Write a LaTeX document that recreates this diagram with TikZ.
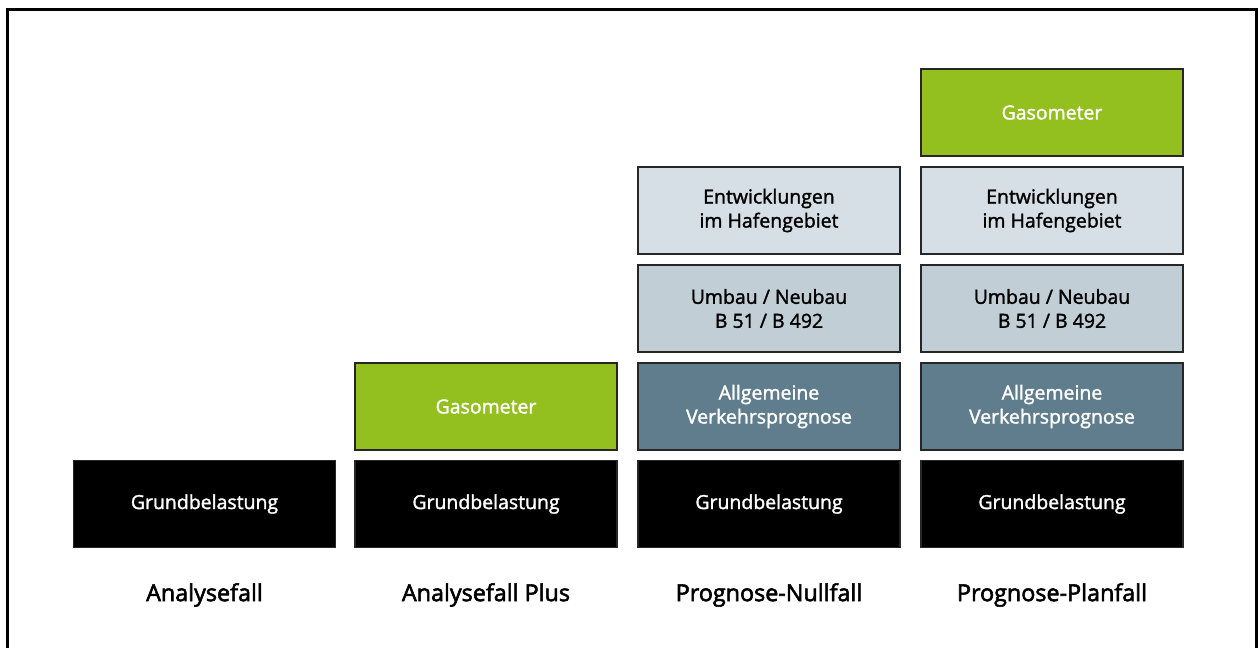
\documentclass[tikz,border=0pt]{standalone}
\usepackage{fontspec}
\setmainfont{Open Sans}
\newfontfamily\boxfont[FakeBold=1.6]{Open Sans}
\newfontfamily\fallfont[FakeBold=2.4]{Open Sans}
\definecolor{gruen}{HTML}{93BF1F}
\definecolor{hell}{HTML}{D6DFE5}
\definecolor{mittel}{HTML}{C1CED6}
\definecolor{dunkel}{HTML}{5F7D8C}
\begin{document}
\begin{tikzpicture}[x=0.75pt,y=-0.75pt,
  blk/.style={draw=black!85,line width=1pt,minimum width=262*0.75pt,minimum height=87*0.75pt,inner sep=0pt,align=center,font=\boxfont\fontsize{14.6}{18}\selectfont},
  basis/.style={blk,fill=black,text=white},
  gas/.style={blk,fill=gruen,text=white},
  entw/.style={blk,fill=hell,text=black},
  umb/.style={blk,fill=mittel,text=black},
  allg/.style={blk,fill=dunkel,text=white},
  fall/.style={font=\fallfont\fontsize{17.5}{20}\selectfont}]
\useasboundingbox (0,0) rectangle (1258,648);
\draw[line width=2pt] (7.5,660) -- (7.5,9.5) -- (1256.5,9.5) -- (1256.5,660);
% column 1
\node[basis] (g1) at (204.5,504) {Grundbelastung};
\node[fall] (l1) at (204.5,595) {Analysefall};
% column 2
\node[basis] (g2) at (486,504) {Grundbelastung};
\node[gas] (gas2) at (486,406.5) {Gasometer};
\node[fall] (l2) at (486,595) {Analysefall Plus};
% column 3
\node[basis] (g3) at (769,504) {Grundbelastung};
\node[allg] (a3) at (769,406.5) {Allgemeine\\Verkehrsprognose};
\node[umb] (u3) at (769,308.5) {Umbau / Neubau\\B 51 / B 492};
\node[entw] (e3) at (769,210.5) {Entwicklungen\\im Hafengebiet};
\node[fall] (l3) at (769,595) {Prognose-Nullfall};
% column 4
\node[basis] (g4) at (1052,504) {Grundbelastung};
\node[allg] (a4) at (1052,406.5) {Allgemeine\\Verkehrsprognose};
\node[umb] (u4) at (1052,308.5) {Umbau / Neubau\\B 51 / B 492};
\node[entw] (e4) at (1052,210.5) {Entwicklungen\\im Hafengebiet};
\node[gas] (gas4) at (1052,112.5) {Gasometer};
\node[fall] (l4) at (1052,595) {Prognose-Planfall};
\end{tikzpicture}
\end{document}
